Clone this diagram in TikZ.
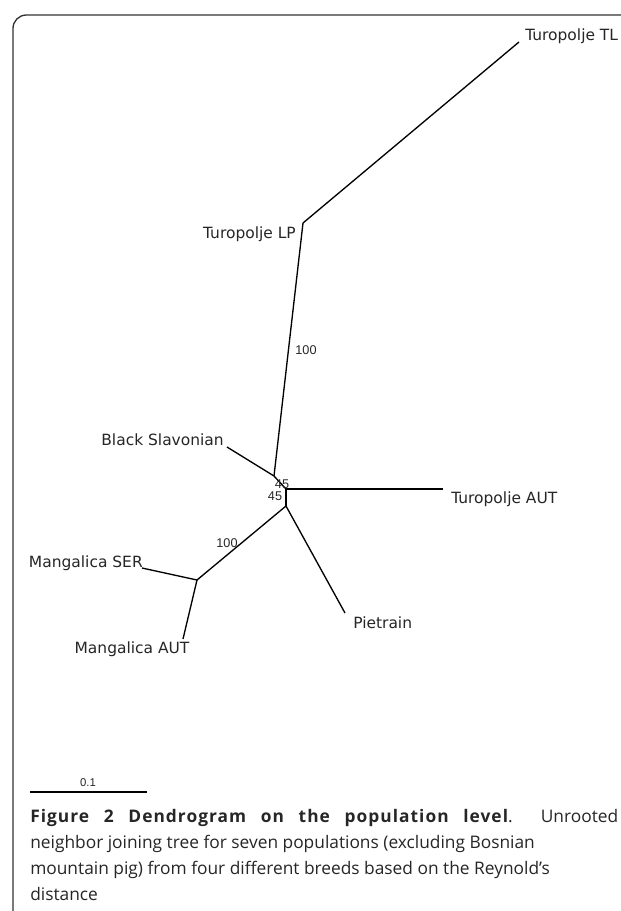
\documentclass[tikz,border=0pt]{standalone}
\usepackage{fontspec}
\setmainfont{Open Sans}
\newfontfamily\capspaced[LetterSpace=6]{Open Sans}
\newfontfamily\treefont{DejaVu Sans}
\newfontfamily\numfont{Liberation Sans}
\begin{document}
\begin{tikzpicture}[x=0.75pt,y=-0.75pt,
  branch/.style={line width=1pt,black},
  tiplabel/.style={inner sep=0pt,font=\treefont\fontsize{11.6}{14}\selectfont,text=black!85},
  bootlabel/.style={inner sep=0pt,font=\numfont\fontsize{9.5}{11}\selectfont,text=black!85},
  capline/.style={inner sep=0pt,anchor=base west,font=\fontsize{13}{15}\selectfont,text=black!85}]
\useasboundingbox (0,0) rectangle (621,911);
\fill[white] (0,0) rectangle (621,911);
% frame
\coordinate (frTR) at (660,15);
\coordinate (frBL) at (13,960);
\draw[line width=1pt,black!80,rounded corners=10pt] (frTR) -- (13,15) -- (frBL);
% tree coordinates
\coordinate (tl) at (519,42);
\coordinate (lp) at (303,223);
\coordinate (a) at (274,476);
\coordinate (bs) at (227,447);
\coordinate (b) at (286,489);
\coordinate (taut) at (443,489);
\coordinate (c) at (286,506);
\coordinate (d) at (197,580);
\coordinate (mser) at (142,568);
\coordinate (maut) at (183,639);
\coordinate (pie) at (345,613);
% branches
\draw[branch] (tl) -- (lp);
\draw[branch] (lp) -- (a);
\draw[branch] (bs) -- (a);
\draw[branch] (a) -- (b);
\draw[branch] (b) -- (taut);
\draw[branch] (b) -- (c);
\draw[branch] (c) -- (d);
\draw[branch] (c) -- (pie);
\draw[branch] (d) -- (mser);
\draw[branch] (d) -- (maut);
% tip labels
\node[tiplabel,anchor=west] (ltl) at (525,36) {Turopolje TL};
\node[tiplabel,anchor=east] (llp) at (296,234) {Turopolje LP};
\node[tiplabel,anchor=east] (lbs) at (224,440) {Black Slavonian};
\node[tiplabel,anchor=west] (ltaut) at (451,499) {Turopolje AUT};
\node[tiplabel,anchor=east] (lmser) at (143,563) {Mangalica SER};
\node[tiplabel,anchor=center] (lmaut) at (132,649) {Mangalica AUT};
\node[tiplabel,anchor=west] (lpie) at (353,623) {Pietrain};
% bootstrap values
\node[bootlabel] (bv1) at (306,350) {100};
\node[bootlabel] (bv2) at (282,484) {45};
\node[bootlabel] (bv3) at (275,496) {45};
\node[bootlabel] (bv4) at (227,543) {100};
% scale bar
\coordinate (sb1) at (30,792);
\coordinate (sb2) at (147,792);
\draw[line width=0.8pt,black] (sb1) -- (sb2);
\node[bootlabel,font=\numfont\fontsize{8.5}{10}\selectfont] (sbl) at (88,783) {0.1};
% caption
\node[capline] (cap1) at (30,822) {\makebox[441pt][s]{{\capspaced\bfseries Figure 2 Dendrogram on the population level}. Unrooted}};
\node[capline] (cap2) at (30,848) {neighbor joining tree for seven populations (excluding Bosnian};
\node[capline] (cap3) at (30,874) {mountain pig) from four different breeds based on the Reynold’s};
\node[capline] (cap4) at (30,900) {distance};
\end{tikzpicture}
\end{document}
